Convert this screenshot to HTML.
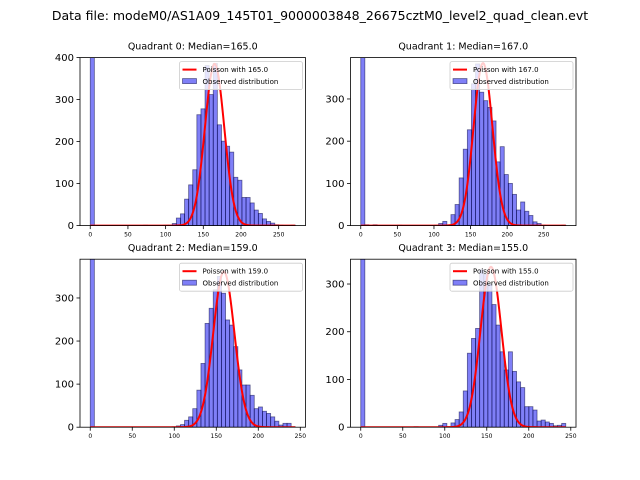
<!DOCTYPE html>
<html><head><meta charset="utf-8"><style>
body{margin:0;background:#fff;}
svg{display:block;font-family:"DejaVu Sans","Liberation Sans",sans-serif;}
</style></head><body>
<svg id="fig" width="640" height="480" viewBox="0 0 640 480" xmlns="http://www.w3.org/2000/svg">
<rect width="640" height="480" fill="#fff"/>
<text x="320" y="20" font-size="12.5" text-anchor="middle">Data file: modeM0/AS1A09_145T01_9000003848_26675cztM0_level2_quad_clean.evt</text>
</svg>
<script>
const titles = ["Quadrant 0: Median=165.0","Quadrant 1: Median=167.0","Quadrant 2: Median=159.0","Quadrant 3: Median=155.0"];
const medians = [165, 167, 159, 155];
const dataMax = [272, 280, 244, 244];
const yMax = [400, 398, 390, 352];
const yTicks = [[0,100,200,300,400],[0,100,200,300],[0,100,200,300],[0,100,200,300]];
const xTicks = [0,50,100,150,200,250];
const poissonPeak = [385, 385, 361, 336];
const counts0 = [2000,0,0,0,0,0,0,0,0,0,0,0,0,1,0,0,0,0,1,1,5,18,28,63,97,133,264,278,381,312,386,240,201,189,175,115,108,67,67,54,37,29,16,10,6,2,1,0,0,1];
const counts1 = [2000,2,0,2,0,0,0,0,0,1,0,0,0,0,0,0,0,0,1,5,10,2,26,50,113,181,227,336,383,316,296,280,248,151,187,121,100,74,37,56,34,24,9,5,1,0,0,0,0,1];
const counts2 = [2000,0,0,0,0,0,0,0,0,0,0,0,0,0,0,0,0,0,0,0,1,3,6,16,24,43,86,148,241,276,319,350,311,249,237,187,133,98,98,74,43,47,37,32,24,14,5,9,9,1];
const counts3 = [2000,0,0,0,0,0,0,0,0,0,0,0,0,1,0,0,0,0,0,4,8,1,9,16,32,76,155,186,207,330,320,300,257,214,158,120,158,117,95,83,43,43,36,13,15,11,8,3,4,8];
const allCounts = [counts0, counts1, counts2, counts3];

const NS = "http://www.w3.org/2000/svg";
const svg = document.getElementById('fig');
const axesBoxes = [[80,57.6],[350.5,57.6],[80,259.2],[350.5,259.2]];
const AW = 225.5, AH = 168;
function mk(tag, attrs, parent){const e=document.createElementNS(NS,tag);for(const k in attrs)e.setAttribute(k,attrs[k]);(parent||svg).appendChild(e);return e;}

for(let q=0;q<4;q++){
  const [L,T]=axesBoxes[q];
  const M=dataMax[q], xmin=-0.05*M, xmax=1.05*M;
  const xs=v=>L+(v-xmin)/(xmax-xmin)*AW;
  const ys=v=>T+AH-(v/yMax[q])*AH;
  const g=mk('g',{});
  
  
  const cp=mk('clipPath',{id:'cp'+q},g);
  mk('rect',{x:L,y:T,width:AW,height:AH},cp);
  const t=mk('text',{x:L+AW/2,y:T-8,'font-size':'9.5','text-anchor':'middle'},g);
  t.textContent=titles[q];
  
  
  const plot=mk('g',{'clip-path':'url(#cp'+q+')'},g);
  const c=allCounts[q], n=c.length, bw=M/n;
  for(let i=0;i<n;i++){
    if(c[i]<=0)continue;
    const x0=xs(i*bw), x1=xs((i+1)*bw), y=ys(c[i]);
    const r=mk('rect',{x:x0,y:y,width:x1-x0,height:ys(0)-y,fill:'rgba(0,0,240,0.5)',stroke:'rgba(0,0,60,0.55)','stroke-width':'0.8'},plot);
    
    
  }
  const mu=medians[q], sd=Math.sqrt(mu);
  let d='';
  for(let k=0;k<=400;k++){const v=M*k/400;const p=poissonPeak[q]*Math.exp(-(v-mu)*(v-mu)/(2*sd*sd));d+=(k?'L':'M')+xs(v).toFixed(2)+','+ys(p).toFixed(2);}
  const line=mk('path',{d:d,fill:'none',stroke:'#ff0000','stroke-width':'2'},plot);
  
  
  mk('rect',{x:L,y:T,width:AW,height:AH,fill:'none',stroke:'#000','stroke-width':'0.8'},g);
  for(const v of xTicks){
    const x=xs(v);
    mk('line',{x1:x,x2:x,y1:T+AH,y2:T+AH+3.5,stroke:'#000','stroke-width':'0.8'},g);
    const tx=mk('text',{x:x,y:T+AH+11,'font-size':'6','text-anchor':'middle'},g);
    tx.textContent=v;
    
    
  }
  for(const v of yTicks[q]){
    const y=ys(v);
    mk('line',{x1:L-3.5,x2:L,y1:y,y2:y,stroke:'#000','stroke-width':'0.8'},g);
    const ty=mk('text',{x:L-6,y:y+3.5,'font-size':'10','text-anchor':'end'},g);
    ty.textContent=v;
    
    
  }
  const lx=L+AW-126, ly=T+4;
  const lg=mk('g',{},g);
  
  
  mk('rect',{x:lx,y:ly,width:123,height:28,rx:2,fill:'rgba(255,255,255,0.8)',stroke:'#ccc','stroke-width':'0.8'},lg);
  mk('line',{x1:lx+3,x2:lx+17,y1:ly+8,y2:ly+8,stroke:'#ff0000','stroke-width':'2'},lg);
  const l1=mk('text',{x:lx+23,y:ly+10.5,'font-size':'7'},lg);
  l1.textContent='Poisson with '+medians[q].toFixed(1);
  
  
  mk('rect',{x:lx+3,y:ly+17,width:14,height:5,fill:'rgba(0,0,240,0.5)',stroke:'rgba(0,0,60,0.55)','stroke-width':'0.8'},lg);
  const l2=mk('text',{x:lx+23,y:ly+22.5,'font-size':'7'},lg);
  l2.textContent='Observed distribution';
  
  
}
</script>
</body></html>
